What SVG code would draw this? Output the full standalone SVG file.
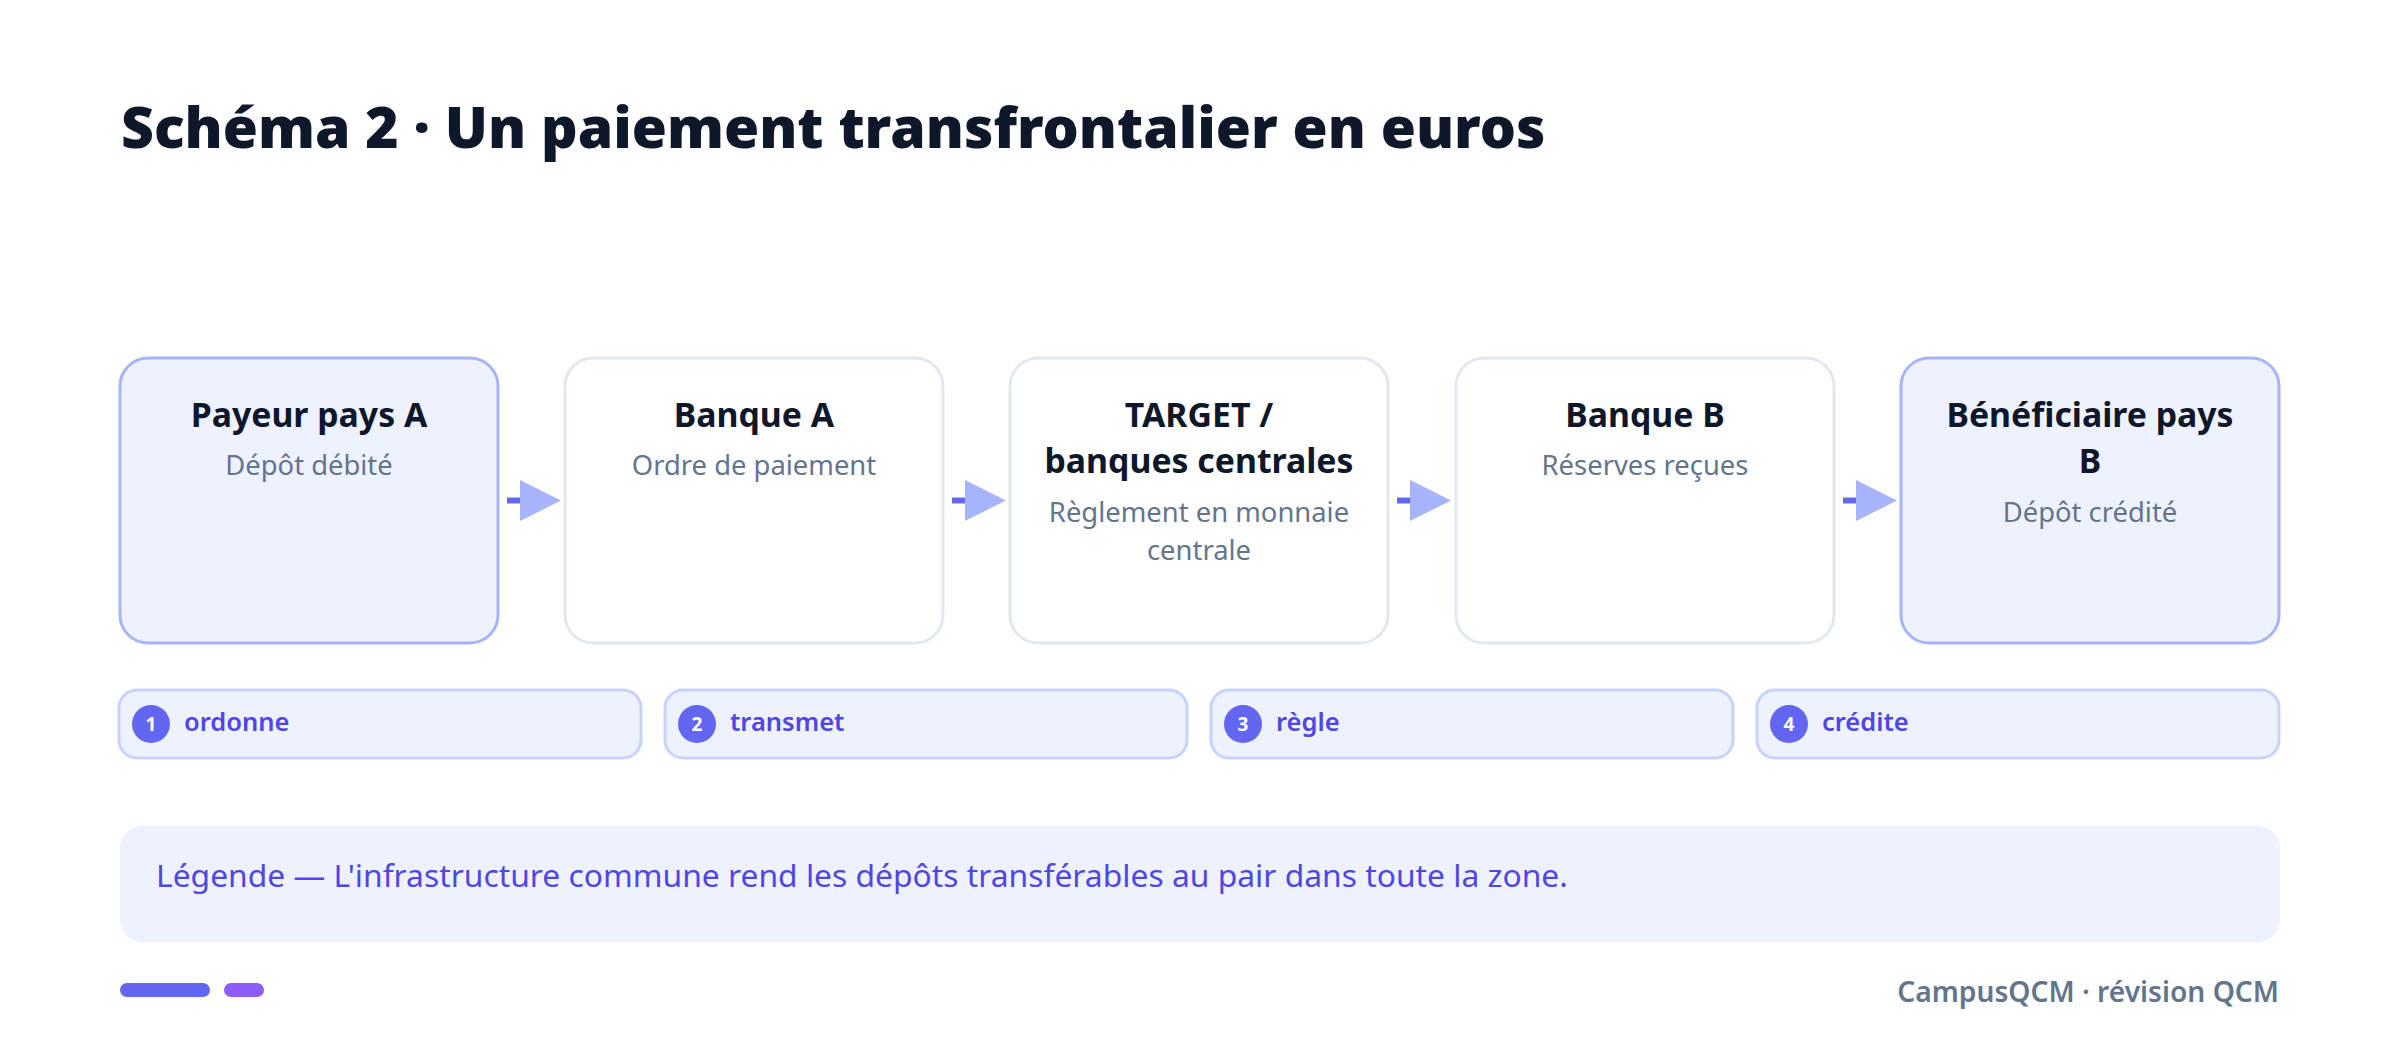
<svg xmlns="http://www.w3.org/2000/svg" width="2400" height="1051" viewBox="0 0 2400 1051">
<style>
.title{font-family:"Noto Sans",sans-serif;font-weight:900;font-size:57px;fill:#0f172a}
.node{stroke-width:3}
.hl{fill:#eef2ff;stroke:#a5b4fc}
.pl{fill:#ffffff;stroke:#e2e8f0}
.nt{font-family:"Noto Sans",sans-serif;font-weight:700;font-size:33.8px;fill:#0f172a;text-anchor:middle}
.ns{font-family:"Noto Sans",sans-serif;font-size:27.4px;fill:#64748b;text-anchor:middle}
.dash{stroke:#6366f1;stroke-width:6}
.head{fill:#a5b4fc}
.pill{fill:#eef2ff;stroke:#c7d2fe;stroke-width:3}
.num{fill:#6366f1}
.numt{font-family:"Noto Sans",sans-serif;font-weight:700;font-size:19px;fill:#ffffff;text-anchor:middle}
.pt{font-family:"Noto Sans",sans-serif;font-weight:600;font-size:25.5px;fill:#4f46e5}
.leg{font-family:"Noto Sans",sans-serif;font-size:31.8px;fill:#4f46e5}
.foot{font-family:"Noto Sans",sans-serif;font-weight:600;font-size:28.2px;fill:#64748b;text-anchor:end}
</style>
<rect width="2400" height="1051" fill="#ffffff"/>
<text class="title" x="121" y="148">Schéma 2 · Un paiement transfrontalier en euros</text>

<g id="node-payeur">
<rect class="node hl" x="120" y="358" width="378" height="285" rx="28"/>
<text class="nt" x="309" y="427">Payeur pays A</text>
<text class="ns" x="309" y="475">Dépôt débité</text>
</g>
<g id="node-banque-a">
<rect class="node pl" x="565" y="358" width="378" height="285" rx="28"/>
<text class="nt" x="754" y="427">Banque A</text>
<text class="ns" x="754" y="475">Ordre de paiement</text>
</g>
<g id="node-target">
<rect class="node pl" x="1010" y="358" width="378" height="285" rx="28"/>
<text class="nt" x="1199" y="427">TARGET /</text>
<text class="nt" x="1199" y="473">banques centrales</text>
<text class="ns" x="1199" y="522">Règlement en monnaie</text>
<text class="ns" x="1199" y="560">centrale</text>
</g>
<g id="node-banque-b">
<rect class="node pl" x="1456" y="358" width="378" height="285" rx="28"/>
<text class="nt" x="1645" y="427">Banque B</text>
<text class="ns" x="1645" y="475">Réserves reçues</text>
</g>
<g id="node-beneficiaire">
<rect class="node hl" x="1901" y="358" width="378" height="285" rx="28"/>
<text class="nt" x="2090" y="427">Bénéficiaire pays</text>
<text class="nt" x="2090" y="473">B</text>
<text class="ns" x="2090" y="522">Dépôt crédité</text>
</g>

<g id="connectors">
<line class="dash" x1="507" y1="500.5" x2="524" y2="500.5"/>
<polygon class="head" points="520,480 561,500.5 520,521"/>
<line class="dash" x1="952" y1="500.5" x2="969" y2="500.5"/>
<polygon class="head" points="965,480 1006,500.5 965,521"/>
<line class="dash" x1="1397" y1="500.5" x2="1414" y2="500.5"/>
<polygon class="head" points="1410,480 1451,500.5 1410,521"/>
<line class="dash" x1="1843" y1="500.5" x2="1860" y2="500.5"/>
<polygon class="head" points="1856,480 1897,500.5 1856,521"/>
</g>

<g id="step-1">
<rect class="pill" x="119" y="690" width="522" height="68" rx="18"/>
<circle class="num" cx="151" cy="724" r="19"/>
<text class="numt" x="151" y="731">1</text>
<text class="pt" x="184" y="731">ordonne</text>
</g>
<g id="step-2">
<rect class="pill" x="665" y="690" width="522" height="68" rx="18"/>
<circle class="num" cx="697" cy="724" r="19"/>
<text class="numt" x="697" y="731">2</text>
<text class="pt" x="730" y="731">transmet</text>
</g>
<g id="step-3">
<rect class="pill" x="1211" y="690" width="522" height="68" rx="18"/>
<circle class="num" cx="1243" cy="724" r="19"/>
<text class="numt" x="1243" y="731">3</text>
<text class="pt" x="1276" y="731">règle</text>
</g>
<g id="step-4">
<rect class="pill" x="1757" y="690" width="522" height="68" rx="18"/>
<circle class="num" cx="1789" cy="724" r="19"/>
<text class="numt" x="1789" y="731">4</text>
<text class="pt" x="1822" y="731">crédite</text>
</g>

<g id="legend">
<rect x="120" y="826" width="2160" height="116" rx="22" fill="#eef2ff"/>
<text class="leg" x="156" y="887">Légende — L'infrastructure commune rend les dépôts transférables au pair dans toute la zone.</text>
</g>

<g id="footer">
<rect x="120" y="983" width="90" height="14" rx="7" fill="#6366f1"/>
<rect x="224" y="983" width="40" height="14" rx="7" fill="#8b5cf6"/>
<text class="foot" x="2279" y="1002">CampusQCM · révision QCM</text>
</g>
</svg>
